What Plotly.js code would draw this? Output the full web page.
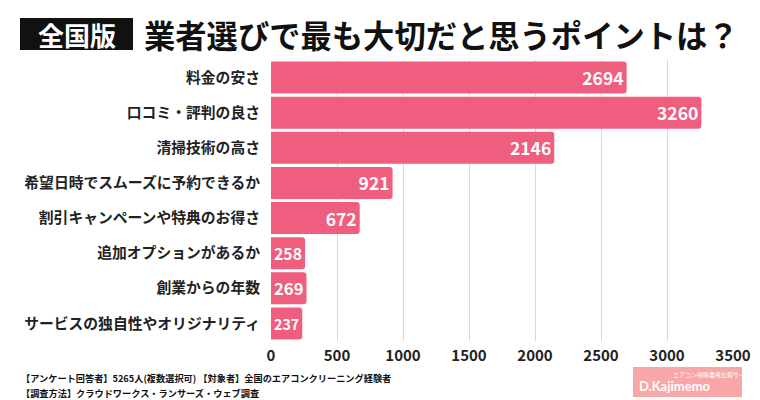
<!DOCTYPE html>
<html><head><meta charset="utf-8">
<script src="https://cdn.plot.ly/plotly-3.0.1.min.js"></script>
<style>html,body{margin:0;padding:0;background:#fff;}#chart{width:760px;height:400px;}</style>
</head><body><div id="chart"></div>
<script>
const categories = ["料金の安さ","口コミ・評判の良さ","清掃技術の高さ","希望日時でスムーズに予約できるか","割引キャンペーンや特典のお得さ","追加オプションがあるか","創業からの年数","サービスの独自性やオリジナリティ"];
const values = [2694,3260,2146,921,672,258,269,237];
const xTicks = [0,500,1000,1500,2000,2500,3000,3500];

const FONT = '"Noto Sans CJK JP", "Noto Sans", sans-serif';
const trace = {
  type:'bar', orientation:'h', x: values, y: categories,
  marker:{color:'#EF5E7E'},
  text: values.map(String), textposition:'inside', insidetextanchor:'end',
  constraintext:'inside', textangle:0,
  textfont:{family:FONT, size:17.5, color:'#fff', weight:700},
  hoverinfo:'none', cliponaxis:false
};
const layout = {
  width:760, height:400,
  margin:{l:271, r:27, t:60, b:59},
  paper_bgcolor:'#fff', plot_bgcolor:'#fff',
  bargap:0.09, barcornerradius:3,
  showlegend:false,
  font:{family:FONT, color:'#222'},
  xaxis:{range:[0,3500], tickvals:xTicks, ticktext:xTicks.map(String), showgrid:true, gridcolor:'#d9d9d9', gridwidth:1,
    zeroline:false, showline:false, ticks:'', tickfont:{family:FONT, size:15, color:'#222', weight:700}, ticklabelstandoff:4},
  yaxis:{autorange:'reversed', showgrid:false, zeroline:false, showline:false, ticks:'',
    tickfont:{family:FONT, size:14.8, color:'#222', weight:700}, ticklabelstandoff:10},
  shapes:[
    {type:'rect', xref:'paper', yref:'paper', x0:-251/462, x1:-138/462, y0:1+10/281, y1:1+42/281, fillcolor:'#111', line:{width:0}, layer:'above'},
    {type:'rect', xref:'paper', yref:'paper', x0:362/462, x1:471/462, y0:-56/281, y1:-26/281, fillcolor:'#F8A7A8', line:{width:0}}
  ],
  annotations:[
    {xref:'paper', yref:'paper', x:-194/462, y:1+26/281, text:'全国版', showarrow:false, font:{family:FONT, size:26, color:'#fff', weight:700}, xanchor:'center', yanchor:'middle'},
    {xref:'paper', yref:'paper', x:-129/462, y:1+26/281, text:'業者選びで最も大切だと思うポイントは？', showarrow:false, font:{family:FONT, size:31.3, color:'#111', weight:700}, xanchor:'left', yanchor:'middle'},
    {xref:'paper', yref:'paper', x:-252/462, y:-37/281, text:'【アンケート回答者】5265人(複数選択可) 【対象者】全国のエアコンクリーニング経験者', showarrow:false, font:{family:FONT, size:9.2, color:'#111', weight:700}, xanchor:'left', yanchor:'middle'},
    {xref:'paper', yref:'paper', x:-252/462, y:-52/281, text:'【調査方法】クラウドワークス・ランサーズ・ウェブ調査', showarrow:false, font:{family:FONT, size:9.2, color:'#111', weight:700}, xanchor:'left', yanchor:'middle'},
    {xref:'paper', yref:'paper', x:400/462, y:-33/281, text:'エアコン掃除業者比較サイト', showarrow:false, font:{family:FONT, size:6, color:'#fff'}, xanchor:'left', yanchor:'middle'},
    {xref:'paper', yref:'paper', x:366/462, y:-45/281, text:'D.Kajimemo', showarrow:false, font:{family:'Lato, sans-serif', size:13, color:'#fff', weight:700}, xanchor:'left', yanchor:'middle'}
  ]
};
Plotly.newPlot('chart', [trace], layout, {staticPlot:true, displayModeBar:false});
</script></body></html>
